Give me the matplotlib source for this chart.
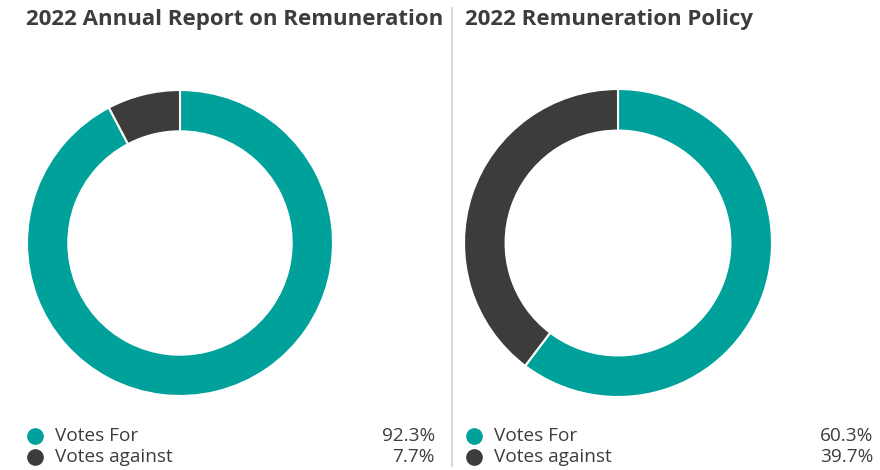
import matplotlib.pyplot as plt
from matplotlib.lines import Line2D

# vote shares (%)
labels = ["Votes For", "Votes against"]
report_votes = [92.3, 7.7]
policy_votes = [60.3, 39.7]
titles = ["2022 Annual Report on Remuneration", "2022 Remuneration Policy"]

TEAL = "#00a19a"
DARK = "#3c3c3b"
TEXT = "#3d3d3d"
W, H = 880, 470

plt.rcParams["font.family"] = ["Open Sans", "DejaVu Sans"]

fig = plt.figure(figsize=(W / 100, H / 100), dpi=100)


def px(x, y):
    # pixel position measured from the top-left corner -> figure fraction
    return x / W, 1 - y / H


def donut(cx, cy, r, values):
    ax = fig.add_axes([(cx - r) / W, (H - cy - r) / H, 2 * r / W, 2 * r / H])
    ax.pie(values, colors=[TEAL, DARK], startangle=90, counterclock=False,
           radius=1, wedgeprops=dict(width=0.27, edgecolor="white", linewidth=1.5))
    ax.set_xlim(-1, 1)
    ax.set_ylim(-1, 1)
    ax.set_aspect("equal")
    ax.axis("off")


donut(180, 243, 153, report_votes)
donut(618, 243, 154, policy_votes)

panels = [(27, 435, report_votes, titles[0]), (466, 873, policy_votes, titles[1])]
for x0, x1, vals, title in panels:
    fig.text(*px(x0 - 1, 20), title, fontsize=16, fontweight="bold",
             color=TEXT, va="center", ha="left")
    for i, (lab, v) in enumerate(zip(labels, vals)):
        y = 436 + i * 21
        fig.add_artist(Line2D([px(x0 + 8, y)[0]], [px(x0 + 8, y)[1]], marker="o",
                              markersize=11, color=[TEAL, DARK][i], linestyle="none"))
        fig.text(*px(x0 + 28, y), lab, fontsize=13.7, color=TEXT, va="center", ha="left")
        fig.text(*px(x1, y), f"{v:.1f}%", fontsize=13.7, color=TEXT, va="center", ha="right")

# divider between the two panels
fig.add_artist(Line2D([452 / W, 452 / W], [px(0, 8)[1], px(0, 466)[1]],
                      color="#d0d0d0", linewidth=1.2))

fig.savefig("out.png", dpi=100)
